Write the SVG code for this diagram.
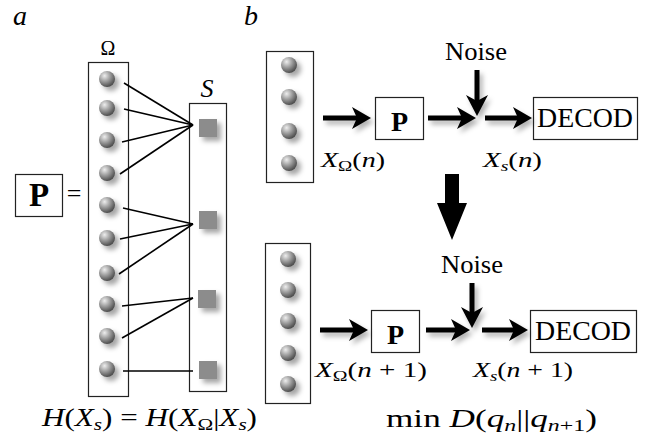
<svg xmlns="http://www.w3.org/2000/svg" width="647" height="444" viewBox="0 0 647 444">
<defs>
<radialGradient id="ballG" cx="0.35" cy="0.3" r="0.75">
<stop offset="0" stop-color="#eeeeee"/>
<stop offset="0.45" stop-color="#a0a0a0"/>
<stop offset="1" stop-color="#444"/>
</radialGradient>
<filter id="sh" x="-50%" y="-50%" width="220%" height="220%">
<feDropShadow dx="4" dy="4" stdDeviation="2.5" flood-color="#000" flood-opacity="0.35"/>
</filter>
<filter id="ash" x="-20%" y="-50%" width="150%" height="250%">
<feDropShadow dx="3" dy="4" stdDeviation="2.5" flood-color="#000" flood-opacity="0.3"/>
</filter>
<g id="ball"><circle r="8" fill="url(#ballG)" filter="url(#sh)"/></g>
<g id="sq"><rect x="-9" y="-9" width="18" height="18" fill="#8c8c8c" filter="url(#sh)"/></g>
</defs>
<style>
.box{fill:none;stroke:#222;stroke-width:1.2}
.t{font-family:"Liberation Serif","Times New Roman",serif;fill:#000}
.it{font-style:italic}
.con{stroke:#000;stroke-width:1.6;fill:none}
.ar{stroke:#000;stroke-width:5;fill:none}
.hd{fill:#000;stroke:none}
</style>

<text class="t it" x="13" y="25" font-size="28">a</text>
<text class="t it" x="244" y="25" font-size="28">b</text>

<g id="omega-col">
<rect class="box" x="88.5" y="62.5" width="40" height="334"/>
<text class="t" x="108" y="55" font-size="20" text-anchor="middle">Ω</text>
<use href="#ball" x="107" y="79"/>
<use href="#ball" x="107" y="108"/>
<use href="#ball" x="107" y="140"/>
<use href="#ball" x="107" y="173"/>
<use href="#ball" x="107" y="205"/>
<use href="#ball" x="107" y="238"/>
<use href="#ball" x="107" y="273"/>
<use href="#ball" x="107" y="304"/>
<use href="#ball" x="107" y="336"/>
<use href="#ball" x="107" y="369"/>
</g>

<g id="s-col">
<rect class="box" x="189.5" y="103.5" width="37" height="288"/>
<text class="t it" x="207" y="97" font-size="26" text-anchor="middle">S</text>
<use href="#sq" x="208" y="128"/>
<use href="#sq" x="208" y="220"/>
<use href="#sq" x="207" y="299"/>
<use href="#sq" x="208" y="370"/>
</g>

<g id="p-a">
<rect class="box" x="15.5" y="174.5" width="47" height="42"/>
<text class="t" x="39" y="206" font-size="33" font-weight="bold" text-anchor="middle">P</text>
<text class="t" x="74" y="202" font-size="26" text-anchor="middle">=</text>
</g>

<g id="connectors">
<g id="links-a">
<line class="con" x1="124" y1="83" x2="193" y2="125"/>
<line class="con" x1="124" y1="109" x2="193" y2="125"/>
<line class="con" x1="122" y1="142" x2="193" y2="125"/>
<line class="con" x1="120" y1="174" x2="193" y2="125"/>
<line class="con" x1="123" y1="208" x2="193" y2="224"/>
<line class="con" x1="120" y1="239" x2="193" y2="224"/>
<line class="con" x1="119" y1="274" x2="193" y2="224"/>
<line class="con" x1="122" y1="306" x2="193" y2="298"/>
<line class="con" x1="122" y1="338" x2="193" y2="298"/>
<line class="con" x1="123" y1="371" x2="193" y2="371"/>
</g>
<g id="arrows-top" filter="url(#ash)">
<line class="ar" x1="323" y1="118" x2="358" y2="118"/>
<path class="hd" d="M371,118 L352,107 L357,118 L352,129 Z"/>
<line class="ar" x1="428" y1="118" x2="463" y2="118"/>
<path class="hd" d="M476,118 L457,107 L462,118 L457,129 Z"/>
<line class="ar" x1="485" y1="118" x2="519" y2="118"/>
<path class="hd" d="M532,118 L513,107 L518,118 L513,129 Z"/>
<line class="ar" x1="477" y1="70" x2="477" y2="104"/>
<path class="hd" d="M477,116 L466,95 L477,101 L488,95 Z"/>
</g>
<g id="arrows-bottom" filter="url(#ash)">
<line class="ar" x1="320" y1="330" x2="355" y2="330"/>
<path class="hd" d="M368,330 L349,319 L354,330 L349,341 Z"/>
<line class="ar" x1="426" y1="330" x2="457" y2="330"/>
<path class="hd" d="M470,330 L451,319 L456,330 L451,341 Z"/>
<line class="ar" x1="482" y1="330" x2="515" y2="330"/>
<path class="hd" d="M528,330 L509,319 L514,330 L509,341 Z"/>
<line class="ar" x1="472" y1="283" x2="472" y2="316"/>
<path class="hd" d="M472,328 L461,307 L472,313 L483,307 Z"/>
</g>
<path id="big-down" d="M445,174 L459,174 L459,203 L467,203 L452,240 L437,203 L445,203 Z" fill="#000"/>
</g>

<g id="col-b1">
<rect class="box" x="266.5" y="51.5" width="47" height="131"/>
<use href="#ball" x="289" y="65"/>
<use href="#ball" x="289" y="97"/>
<use href="#ball" x="289" y="131"/>
<use href="#ball" x="289" y="163"/>
</g>
<g id="p-b1">
<rect class="box" x="375.5" y="97.5" width="48" height="42"/>
<text class="t" x="399.5" y="131" font-size="28" font-weight="bold" text-anchor="middle">P</text>
</g>
<g id="decod-b1">
<rect class="box" x="533.5" y="97.5" width="104" height="42"/>
<text class="t" x="537" y="127" font-size="27" textLength="96" lengthAdjust="spacingAndGlyphs">DECOD</text>
</g>
<text class="t" x="445" y="60" font-size="25" textLength="62" lengthAdjust="spacingAndGlyphs">Noise</text>
<text class="t" x="321" y="167" font-size="22" textLength="64" lengthAdjust="spacingAndGlyphs"><tspan class="it">X</tspan><tspan font-size="15" dy="4">Ω</tspan><tspan dy="-4">(</tspan><tspan class="it">n</tspan>)</text>
<text class="t" x="483" y="167" font-size="22" textLength="59" lengthAdjust="spacingAndGlyphs"><tspan class="it">X</tspan><tspan class="it" font-size="15" dy="4">s</tspan><tspan dy="-4">(</tspan><tspan class="it">n</tspan>)</text>

<g id="col-b2">
<rect class="box" x="265.5" y="243.5" width="45" height="160"/>
<use href="#ball" x="288" y="259"/>
<use href="#ball" x="288" y="290"/>
<use href="#ball" x="288" y="321"/>
<use href="#ball" x="288" y="353"/>
<use href="#ball" x="288" y="384"/>
</g>
<g id="p-b2">
<rect class="box" x="371.5" y="310.5" width="48" height="42"/>
<text class="t" x="395.5" y="344" font-size="28" font-weight="bold" text-anchor="middle">P</text>
</g>
<g id="decod-b2">
<rect class="box" x="530.5" y="310.5" width="106" height="42"/>
<text class="t" x="535" y="340" font-size="27" textLength="96" lengthAdjust="spacingAndGlyphs">DECOD</text>
</g>
<text class="t" x="441" y="273" font-size="25" textLength="62" lengthAdjust="spacingAndGlyphs">Noise</text>
<text class="t" x="315" y="377" font-size="22" textLength="112" lengthAdjust="spacingAndGlyphs"><tspan class="it">X</tspan><tspan font-size="15" dy="4">Ω</tspan><tspan dy="-4">(</tspan><tspan class="it">n</tspan> + 1)</text>
<text class="t" x="473" y="377" font-size="22" textLength="100" lengthAdjust="spacingAndGlyphs"><tspan class="it">X</tspan><tspan class="it" font-size="15" dy="4">s</tspan><tspan dy="-4">(</tspan><tspan class="it">n</tspan> + 1)</text>

<text class="t" x="42" y="426" font-size="25" textLength="215" lengthAdjust="spacingAndGlyphs"><tspan class="it">H</tspan>(<tspan class="it">X</tspan><tspan class="it" font-size="17" dy="4">s</tspan><tspan dy="-4">) = </tspan><tspan class="it">H</tspan>(<tspan class="it">X</tspan><tspan font-size="17" dy="4">Ω</tspan><tspan dy="-4">|</tspan><tspan class="it">X</tspan><tspan class="it" font-size="17" dy="4">s</tspan><tspan dy="-4">)</tspan></text>
<text class="t" x="386" y="427" font-size="25" textLength="211" lengthAdjust="spacingAndGlyphs">min <tspan class="it">D</tspan>(<tspan class="it">q</tspan><tspan class="it" font-size="17" dy="4">n</tspan><tspan dy="-4">||</tspan><tspan class="it">q</tspan><tspan class="it" font-size="17" dy="4">n</tspan><tspan font-size="17">+1</tspan><tspan dy="-4">)</tspan></text>
</svg>
